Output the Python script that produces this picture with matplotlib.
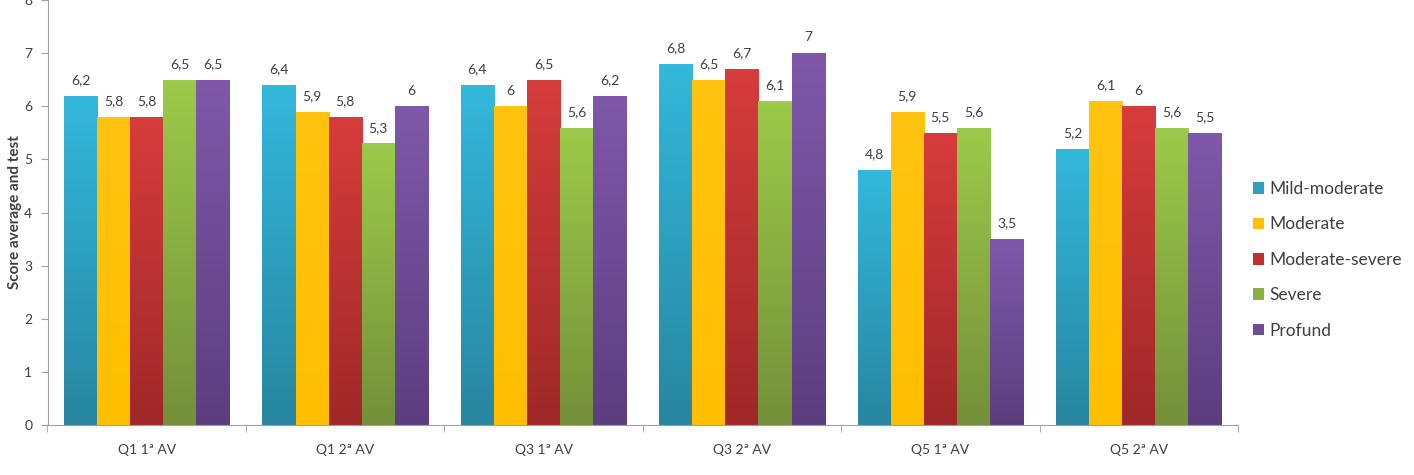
import numpy as np
import matplotlib
matplotlib.use('Agg')
import matplotlib.pyplot as plt
from matplotlib.colors import LinearSegmentedColormap
from matplotlib.patches import Patch

plt.rcParams['font.family'] = ['Lato', 'DejaVu Sans']

categories = ['Q1 1ª AV', 'Q1 2ª AV', 'Q3 1ª AV', 'Q3 2ª AV', 'Q5 1ª AV', 'Q5 2ª AV']
series = ['Mild-moderate', 'Moderate', 'Moderate-severe', 'Severe', 'Profund']
mild_moderate = [6.2, 6.4, 6.4, 6.8, 4.8, 5.2]
moderate = [5.8, 5.9, 6.0, 6.5, 5.9, 6.1]
moderate_severe = [5.8, 5.8, 6.5, 6.7, 5.5, 6.0]
severe = [6.5, 5.3, 5.6, 6.1, 5.6, 5.6]
profund = [6.5, 6.0, 6.2, 7.0, 3.5, 5.5]
values = [mild_moderate, moderate, moderate_severe, severe, profund]

# (top, bottom) colours of each series gradient
grad = [('#33B8DC', '#2886A0'),
        ('#FFC410', '#FFBE00'),
        ('#D63C3C', '#A02828'),
        ('#9CCA4A', '#74903A'),
        ('#7F58AA', '#5C3E80')]
legend_col = ['#2E9FC0', '#FFC000', '#C0302F', '#8AB042', '#6F4C98']


def fmt(v):
    s = ('%g' % v)
    return s.replace('.', ',')


fig = plt.figure(figsize=(14.14, 4.75), dpi=100)
ax = fig.add_axes([47.5 / 1414, 50 / 475, 1190.5 / 1414, 425 / 475])

x = np.arange(len(categories))
bw = 0.1667
for i, (name, vals) in enumerate(zip(series, values)):
    pos = x - 2 * bw + i * bw
    bars = ax.bar(pos, vals, bw, color='none', edgecolor='none', zorder=2)
    cmap = LinearSegmentedColormap.from_list(name, [grad[i][1], grad[i][0]])
    for b, v in zip(bars, vals):
        bx = b.get_x()
        img = ax.imshow(np.linspace(0, 1, 100).reshape(-1, 1), cmap=cmap,
                        extent=[bx, bx + bw, 0, v], origin='lower',
                        aspect='auto', zorder=2)
        img.set_clip_path(b)
        ax.annotate(fmt(v), (bx + bw / 2, v), xytext=(0, 7),
                    textcoords='offset points', ha='center', va='bottom',
                    fontsize=10, color='#404040')

ax.set_xlim(-0.5, len(categories) - 0.5)
ax.set_ylim(0, 8)
ax.set_yticks(range(0, 9))
ax.set_xticks(x)
ax.set_xticklabels(categories, fontsize=10, color='#404040')
ax.set_xticks(np.arange(-0.5, len(categories)), minor=True)
ax.tick_params(axis='x', which='major', length=0, pad=14)
ax.tick_params(axis='x', which='minor', length=5, color='#A0A0A0')
ax.tick_params(axis='y', length=5, color='#A0A0A0', labelsize=10,
               labelcolor='#404040', pad=6)
for s in ['top', 'right']:
    ax.spines[s].set_visible(False)
for s in ['left', 'bottom']:
    ax.spines[s].set_color('#A0A0A0')
ax.set_ylabel('Score average and test', fontsize=11, fontweight='bold',
              color='#404040')
ax.yaxis.set_label_coords(-0.021, 0.5)

handles = [Patch(facecolor=c, edgecolor='none') for c in legend_col]
fig.legend(handles, series, loc='upper left', bbox_to_anchor=(1253 / 1414, 1 - 181 / 475),
           frameon=False, fontsize=12.5, handlelength=0.65, handleheight=0.65,
           handletextpad=0.3, labelspacing=1.12, labelcolor='#404040',
           borderpad=0, borderaxespad=0)

fig.savefig('out.png', dpi=100)
